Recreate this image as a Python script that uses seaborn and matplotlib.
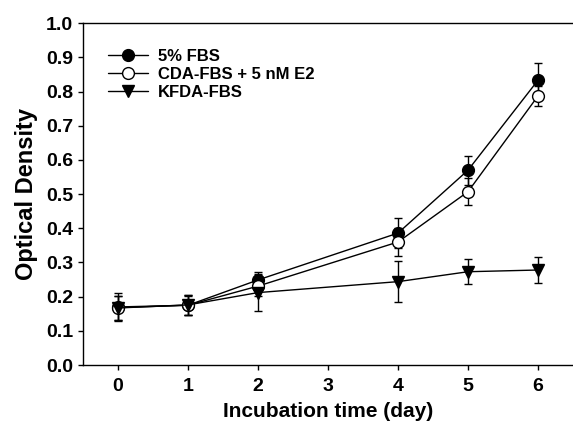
import matplotlib
matplotlib.use("Agg")
import matplotlib.pyplot as plt
import seaborn as sns
import pandas as pd
import numpy as np

days = [0, 1, 2, 4, 5, 6]
fbs = [0.170, 0.175, 0.249, 0.386, 0.570, 0.833]
fbs_err = [0.040, 0.028, 0.024, 0.045, 0.042, 0.050]
cda = [0.168, 0.175, 0.231, 0.360, 0.507, 0.787]
cda_err = [0.035, 0.030, 0.030, 0.040, 0.040, 0.030]
kfda = [0.167, 0.176, 0.212, 0.244, 0.273, 0.278]
kfda_err = [0.035, 0.030, 0.055, 0.060, 0.037, 0.038]
labels = ["5% FBS", "CDA-FBS + 5 nM E2", "KFDA-FBS"]
xticks = [0, 1, 2, 3, 4, 5, 6]
yticks = [0.0, 0.1, 0.2, 0.3, 0.4, 0.5, 0.6, 0.7, 0.8, 0.9, 1.0]

sns.set_theme(style="ticks")
plt.rcParams['font.family'] = ['Liberation Sans', 'DejaVu Sans']
plt.rcParams['font.weight'] = 'bold'

fig = plt.figure(figsize=(5.73, 4.28), dpi=100)
ax = fig.add_axes([0.145, 0.147, 0.855, 0.799])

series = [
    (fbs, fbs_err, "o", "black"),
    (cda, cda_err, "o", "white"),
    (kfda, kfda_err, "v", "black"),
]
for (vals, errs, mk, fc), lab in zip(series, labels):
    ax.errorbar(days, vals, yerr=errs, fmt="none", ecolor="black",
                elinewidth=1.0, capsize=3, capthick=1.0, zorder=2)
    df = pd.DataFrame({"day": days, "od": vals})
    sns.lineplot(data=df, x="day", y="od", ax=ax, color="black", lw=1.0,
                 marker=mk, markersize=8.5, markerfacecolor=fc,
                 markeredgecolor="black", markeredgewidth=1.0,
                 label=lab, zorder=3)

ax.set_xlim(-0.5, 6.5)
ax.set_ylim(0.0, 1.0)
ax.set_xticks(xticks)
ax.set_yticks(yticks)
ax.set_yticklabels([f"{v:.1f}" for v in yticks])
ax.tick_params(axis="both", labelsize=14, direction="out", length=3.6, width=1,
               colors="black", labelcolor="black")
ax.tick_params(axis="x", pad=6)
ax.tick_params(axis="y", pad=3.5)
for t in ax.get_xticklabels() + ax.get_yticklabels():
    t.set_fontweight("bold")
ax.set_xlabel("Incubation time (day)", fontsize=15, fontweight="bold",
              labelpad=5, color="black")
ax.set_ylabel("Optical Density", fontsize=17, fontweight="bold",
              labelpad=6, color="black")
for s in ["left", "bottom", "top"]:
    ax.spines[s].set_color("black")
    ax.spines[s].set_linewidth(1.0)
ax.spines["right"].set_visible(False)

leg = ax.legend(loc="upper left", bbox_to_anchor=(0.03, 0.955), frameon=False,
                fontsize=12, handlelength=2.4, handletextpad=0.6,
                labelspacing=0.18, borderaxespad=0.2)
for t in leg.get_texts():
    t.set_fontweight("bold")
    t.set_color("black")

fig.savefig("out.png", dpi=100)
